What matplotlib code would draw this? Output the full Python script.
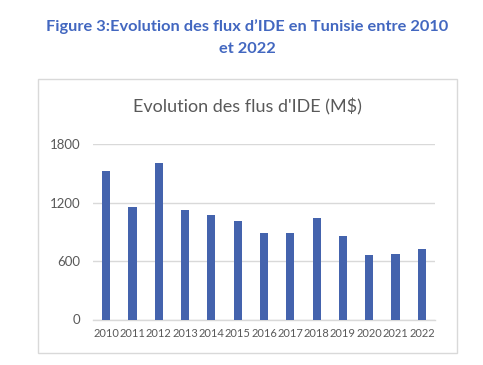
import matplotlib
matplotlib.use("Agg")
import matplotlib.pyplot as plt
from matplotlib.patches import Rectangle

years = ["2010", "2011", "2012", "2013", "2014", "2015", "2016",
         "2017", "2018", "2019", "2020", "2021", "2022"]
flux = [1520, 1150, 1610, 1122, 1068, 1006, 887, 884, 1044, 853, 662, 669, 722]
yticks = [0, 600, 1200, 1800]

plt.rcParams['font.family'] = ['Lato', 'DejaVu Sans']

W, H = 483, 365
fig = plt.figure(figsize=(W / 100, H / 100), dpi=100)
fig.patch.set_facecolor("white")

def fx(px):
    return px / W

def fy(py):
    return 1 - py / H

# Figure caption
fig.text(fx(247), fy(27), "Figure 3:Evolution des flux d’IDE en Tunisie entre 2010",
         ha="center", va="center", color="#4267C0", fontsize=11.8, fontweight="bold")
fig.text(fx(247), fy(49), "et 2022",
         ha="center", va="center", color="#4267C0", fontsize=11.8, fontweight="bold")

# Chart border box
fig.patches.append(Rectangle((fx(38), fy(353)), fx(457) - fx(38), fy(79) - fy(353),
                             transform=fig.transFigure, fill=False,
                             edgecolor="#D9D9D9", linewidth=1.0))

# Chart title
fig.text(fx(247), fy(107), "Evolution des flus d'IDE (M$)", ha="center", va="center",
         color="#595959", fontsize=13)

ax = fig.add_axes([fx(93), fy(319.5), fx(435) - fx(93), fy(144) - fy(319.5)])
x = list(range(len(years)))
ax.bar(x, flux, width=0.31, color="#4463AD", zorder=3)
ax.set_xlim(-0.5, len(years) - 0.5)
ax.set_ylim(0, 1800)
ax.set_yticks(yticks)
ax.set_yticklabels([str(v) for v in yticks])
ax.set_xticks(x)
ax.set_xticklabels(years)
ax.yaxis.grid(True, color="#D9D9D9", linewidth=1.0, zorder=0)
ax.set_axisbelow(True)
for s in ["top", "right", "left"]:
    ax.spines[s].set_visible(False)
ax.spines["bottom"].set_color("#D9D9D9")
ax.spines["bottom"].set_linewidth(1.0)
ax.tick_params(axis="both", length=0, colors="#595959")
ax.tick_params(axis="y", pad=9, labelsize=9.5)
ax.tick_params(axis="x", pad=6, labelsize=8)
ax.set_facecolor("white")

fig.savefig("out.png", dpi=100, facecolor="white")
